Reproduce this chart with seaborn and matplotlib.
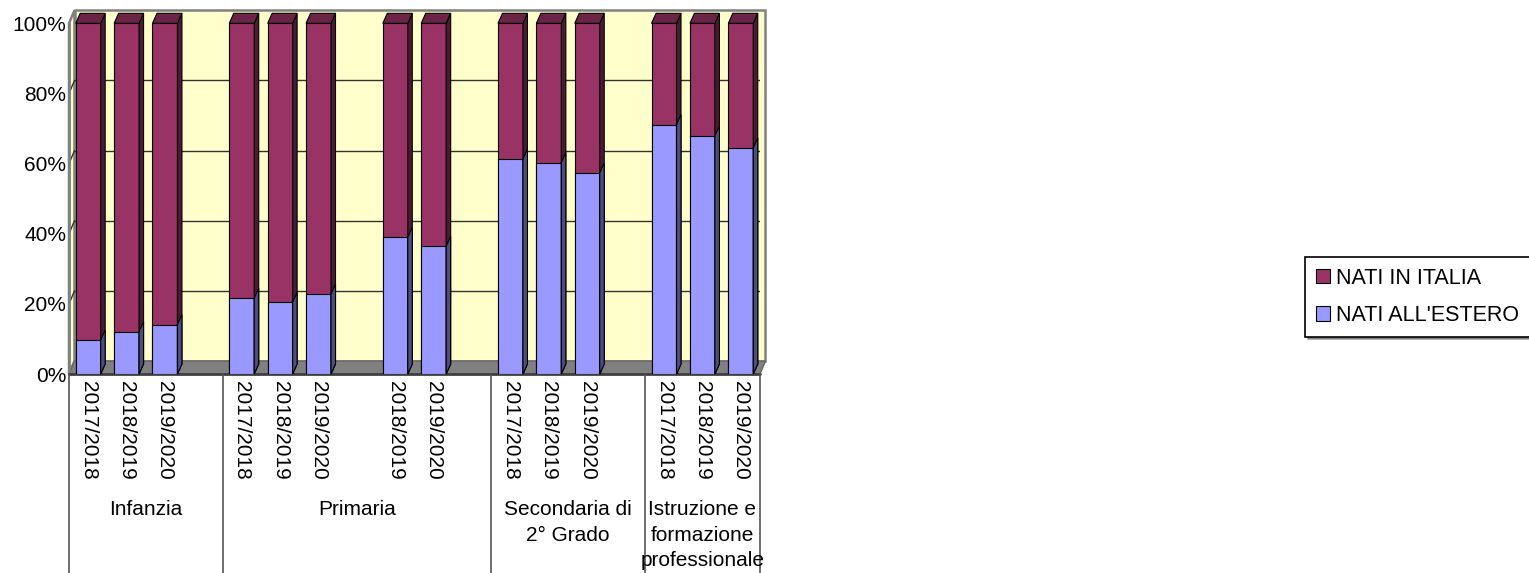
import numpy as np
import pandas as pd
import matplotlib
matplotlib.use("Agg")
import matplotlib.pyplot as plt
import seaborn as sns
from matplotlib.patches import Polygon, Patch
from matplotlib import transforms
from matplotlib.colors import to_rgb

# dati (percentuali)
group_names = ["Infanzia", "Primaria", "Secondaria di\n2° Grado",
               "Istruzione e\nformazione\nprofessionale"]
group_sizes = [4, 7, 4, 3]
slot_labels = ["2017/2018", "2018/2019", "2019/2020", "",
               "2017/2018", "2018/2019", "2019/2020", "", "2018/2019", "2019/2020", "",
               "2017/2018", "2018/2019", "2019/2020", "",
               "2017/2018", "2018/2019", "2019/2020"]
nati_estero = [9.7, 12.1, 14.1, None,
               21.6, 20.4, 22.8, None, 39.0, 36.4, None,
               61.3, 60.3, 57.3, None,
               71.1, 67.9, 64.5]
nati_italia = [90.3, 87.9, 85.9, None,
               78.4, 79.6, 77.2, None, 61.0, 63.6, None,
               38.7, 39.7, 42.7, None,
               28.9, 32.1, 35.5]

COL_ITALIA = "#993366"
COL_ESTERO = "#9999FF"
WALL = "#FFFFCC"
FLOOR = "#808080"
FS = 15


def shade(col, f):
    return tuple(c * f for c in to_rgb(col))


df = pd.DataFrame({"slot": range(len(slot_labels)),
                   "estero": pd.to_numeric(nati_estero),
                   "italia": pd.to_numeric(nati_italia)})
df["totale"] = df["estero"] + df["italia"]

sns.set_theme(style="white")
plt.rcParams["font.family"] = ["Liberation Sans", "DejaVu Sans"]
plt.rcParams["text.color"] = "black"

W, H = 1529, 573
fig = plt.figure(figsize=(W / 100, H / 100), dpi=100)
ax = fig.add_axes([69 / W, 199 / H, 691 / W, 350.7 / H])
ax.set_facecolor("none")

order = list(df["slot"])
sns.barplot(data=df, x="slot", y="totale", order=order, color=COL_ITALIA,
            saturation=1, width=0.65, edgecolor="black", linewidth=0.8,
            errorbar=None, ax=ax)
n_it = len(ax.patches)
sns.barplot(data=df, x="slot", y="estero", order=order, color=COL_ESTERO,
            saturation=1, width=0.65, edgecolor="black", linewidth=0.8,
            errorbar=None, ax=ax)

x0, x1 = -0.5, len(slot_labels) - 0.5
ax.set_xlim(x0, x1)
ax.set_ylim(0, 100)
px_x = 691 / (x1 - x0)
px_y = 350.7 / 100

# pareti e pavimento 3D
wdx, wdy = 5.5 / px_x, 13 / px_y
ax.add_patch(Polygon([(x0 + wdx, wdy), (x1 + wdx, wdy), (x1 + wdx, 100 + wdy), (x0 + wdx, 100 + wdy)],
                     closed=True, fc=WALL, ec=FLOOR, lw=1.8, zorder=0, clip_on=False))
ax.add_patch(Polygon([(x0, 0), (x0 + wdx, wdy), (x0 + wdx, 100 + wdy), (x0, 100)],
                     closed=True, fc=WALL, ec=FLOOR, lw=1.8, zorder=0, clip_on=False))
ax.add_patch(Polygon([(x0, 0), (x1, 0), (x1 + wdx, wdy), (x0 + wdx, wdy)],
                     closed=True, fc=FLOOR, ec="#666666", lw=1, zorder=0.3, clip_on=False))
for v in [20, 40, 60, 80]:
    ax.plot([x0 + wdx, x1 + wdx], [v + wdy, v + wdy], color="#333333", lw=1, zorder=0.2)
    ax.plot([x0, x0 + wdx], [v, v + wdy], color="#333333", lw=1, zorder=0.2, clip_on=False)
ax.plot([x0, x0], [0, 100], color=FLOOR, lw=2, zorder=0.4, clip_on=False)
ax.plot([x0, x1], [0, 0], color="#404040", lw=2, zorder=0.4, clip_on=False)

# facce laterali e superiori delle barre
bdx, bdy = 4.5 / px_x, 10 / px_y
for i, p in enumerate(ax.patches[:]):
    if not isinstance(p, matplotlib.patches.Rectangle):
        continue
    h = p.get_height()
    if not np.isfinite(h) or h <= 0:
        continue
    col = COL_ITALIA if i < n_it else COL_ESTERO
    x, w = p.get_x(), p.get_width()
    ax.add_patch(Polygon([(x + w, 0), (x + w, h), (x + w + bdx, h + bdy), (x + w + bdx, bdy)],
                         closed=True, fc=shade(col, 0.5), ec="black", lw=0.8, zorder=3, clip_on=False))
    if i < n_it:
        ax.add_patch(Polygon([(x, h), (x + w, h), (x + w + bdx, h + bdy), (x + bdx, h + bdy)],
                             closed=True, fc=shade(col, 0.7), ec="black", lw=0.8, zorder=3, clip_on=False))

# assi
ax.set_yticks([0, 20, 40, 60, 80, 100])
ax.set_yticklabels([f"{v}%" for v in [0, 20, 40, 60, 80, 100]])
ax.set_xticks(range(len(slot_labels)))
ax.set_xticklabels(slot_labels, rotation=-90)
ax.tick_params(axis="y", length=0, pad=2, labelsize=FS, labelcolor="black")
ax.tick_params(axis="x", length=0, pad=5, labelsize=FS, labelcolor="black")
ax.set_xlabel("")
ax.set_ylabel("")
for s in ax.spines.values():
    s.set_visible(False)

# etichette dei gruppi
trans = transforms.blended_transform_factory(ax.transData, ax.transAxes)
bottom_ax = -199 / 350.7
start = x0
ax.plot([start, start], [0, bottom_ax], color="#555555", lw=1.2, transform=trans, clip_on=False)
for name, n in zip(group_names, group_sizes):
    end = start + n
    ax.plot([end, end], [0, bottom_ax], color="#555555", lw=1.2, transform=trans, clip_on=False)
    ax.text((start + end) / 2, -(500 - 374) / 350.7, name, transform=trans,
            ha="center", va="top", fontsize=FS, linespacing=1.45, color="black")
    start = end

# legenda
handles = [Patch(fc=COL_ITALIA, ec="black", lw=0.8), Patch(fc=COL_ESTERO, ec="black", lw=0.8)]
leg = fig.legend(handles, ["NATI IN ITALIA", "NATI ALL'ESTERO"], loc="upper left",
                 bbox_to_anchor=(1305 / W, 1 - 257 / H), fontsize=15.5, frameon=True,
                 fancybox=False, edgecolor="black", handlelength=0.65, handleheight=0.65,
                 handletextpad=0.3, labelspacing=0.75, borderpad=0.5, borderaxespad=0,
                 shadow=True)
leg.get_frame().set_linewidth(1.2)

fig.savefig("out.png", dpi=100)
